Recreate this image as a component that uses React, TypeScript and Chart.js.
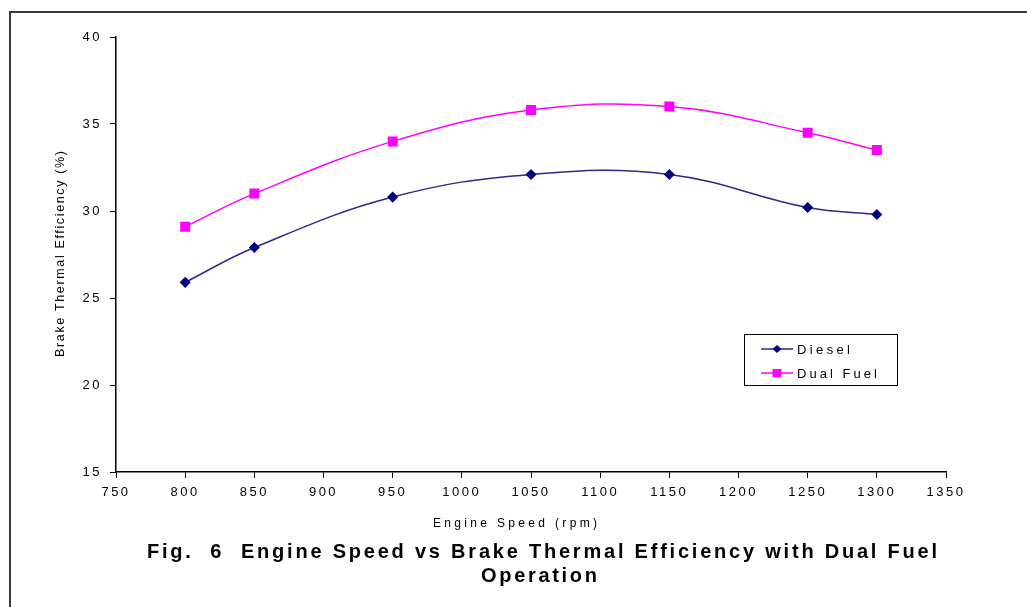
import React, { useEffect, useRef } from "react";
import { Chart, registerables } from "chart.js";

Chart.register(...registerables);

const W = 1027;
const H = 607;

// ---- data ----
const engineSpeed = [800, 850, 950, 1050, 1150, 1250, 1300];
const dieselBTE = [25.9, 27.9, 30.8, 32.1, 32.1, 30.2, 29.8];
const dualFuelBTE = [29.1, 31.0, 34.0, 35.8, 36.0, 34.5, 33.5];
const seriesNames = ["Diesel", "Dual Fuel"];
const xRange = [750, 1350];
const xStep = 50;
const yRange = [15, 40];
const yStep = 5;
const xTitle = "Engine Speed (rpm)";
const yTitle = "Brake Thermal Efficiency (%)";
const captionLines = [
  "Fig.  6  Engine Speed vs Brake Thermal Efficiency with Dual Fuel",
  "Operation",
];

const DIESEL_LINE = "#2a2a8a";
const DIESEL_PT = "#000080";
const DUAL = "#ff00ff";

function spacedText(
  ctx: CanvasRenderingContext2D,
  text: string,
  x: number,
  y: number,
  width: number,
  align: "left" | "center"
) {
  ctx.letterSpacing = "0px";
  const w = ctx.measureText(text).width;
  const n = Math.max(1, text.length - 1);
  const sp = (width - w) / n;
  ctx.letterSpacing = sp + "px";
  ctx.textAlign = "left";
  const startX = align === "center" ? x - width / 2 : x;
  ctx.fillText(text, startX, y);
  ctx.letterSpacing = "0px";
}

function drawMarker(ctx: CanvasRenderingContext2D, style: string, x: number, y: number, color: string) {
  ctx.fillStyle = color;
  ctx.beginPath();
  if (style === "rectRot") {
    ctx.moveTo(x, y - 4);
    ctx.lineTo(x + 4.5, y);
    ctx.lineTo(x, y + 4);
    ctx.lineTo(x - 4.5, y);
    ctx.closePath();
  } else {
    ctx.rect(x - 4.5, y - 4, 9, 8);
  }
  ctx.fill();
}

const decorPlugin = {
  id: "decor",
  beforeDraw(chart: any) {
    const ctx: CanvasRenderingContext2D = chart.ctx;
    ctx.save();
    ctx.fillStyle = "#ffffff";
    ctx.fillRect(0, 0, W, H);
    ctx.fillStyle = "#3a3a3a";
    ctx.fillRect(9, 11, 2, H - 11);
    ctx.fillRect(9, 11, W - 9, 2);
    ctx.restore();
    ctx.letterSpacing = "2.5px";
  },
  afterDraw(chart: any) {
    const ctx: CanvasRenderingContext2D = chart.ctx;
    ctx.save();
    ctx.letterSpacing = "0px";
    ctx.fillStyle = "#000";
    ctx.textBaseline = "alphabetic";

    // x axis title
    ctx.font = '12px "Liberation Sans", Arial, sans-serif';
    spacedText(ctx, xTitle, 515, 527, 164, "center");

    // y axis title
    ctx.save();
    ctx.translate(64, 254);
    ctx.rotate(-Math.PI / 2);
    ctx.font = '12.5px "Liberation Sans", Arial, sans-serif';
    spacedText(ctx, yTitle, 0, 0, 206, "center");
    ctx.restore();

    // caption
    ctx.font = 'bold 20px "Liberation Sans", Arial, sans-serif';
    spacedText(ctx, captionLines[0], 542, 558, 790, "center");
    spacedText(ctx, captionLines[1], 539, 582, 116, "center");

    // legend
    ctx.lineWidth = 1;
    ctx.strokeStyle = "#000";
    ctx.strokeRect(744.5, 334.5, 153, 51);
    const ds = chart.data.datasets;
    const rowsY = [349, 373];
    const widths = [53, 80];
    ds.forEach((d: any, i: number) => {
      const y = rowsY[i];
      ctx.strokeStyle = d.borderColor;
      ctx.lineWidth = 1.5;
      ctx.beginPath();
      ctx.moveTo(761, y);
      ctx.lineTo(793, y);
      ctx.stroke();
      drawMarker(ctx, d.pointStyle, 777, y, d.pointBackgroundColor);
      ctx.fillStyle = "#000";
      ctx.font = '13px "Liberation Sans", Arial, sans-serif';
      ctx.textBaseline = "middle";
      spacedText(ctx, d.label, 797, y + 1, widths[i], "left");
    });
    ctx.restore();
  },
};

export default function App() {
  const ref = useRef<HTMLCanvasElement | null>(null);

  useEffect(() => {
    if (!ref.current) return;
    const tickFont = { family: '"Liberation Sans", Arial, sans-serif', size: 13 };
    const chart = new Chart(ref.current, {
      type: "line",
      data: {
        datasets: [
          {
            label: seriesNames[0],
            data: engineSpeed.map((x, i) => ({ x, y: dieselBTE[i] })),
            borderColor: DIESEL_LINE,
            backgroundColor: DIESEL_PT,
            pointBackgroundColor: DIESEL_PT,
            pointBorderColor: DIESEL_PT,
            pointStyle: "rectRot",
            pointRadius: 4.5,
            borderWidth: 1.5,
            tension: 0.4,
            fill: false,
          },
          {
            label: seriesNames[1],
            data: engineSpeed.map((x, i) => ({ x, y: dualFuelBTE[i] })),
            borderColor: DUAL,
            backgroundColor: DUAL,
            pointBackgroundColor: DUAL,
            pointBorderColor: DUAL,
            pointStyle: "rect",
            pointRadius: 6,
            borderWidth: 1.5,
            tension: 0.4,
            fill: false,
          },
        ],
      },
      options: {
        responsive: false,
        animation: false,
        devicePixelRatio: 1,
        layout: { padding: { left: 30, top: 37, right: 81, bottom: 0 } },
        plugins: {
          legend: { display: false },
          title: { display: false },
          tooltip: { enabled: false },
        },
        scales: {
          x: {
            type: "linear",
            min: xRange[0],
            max: xRange[1],
            ticks: {
              stepSize: xStep,
              autoSkip: false,
              maxRotation: 0,
              color: "#000",
              font: tickFont,
              padding: 7,
              callback: (v: any) => String(v),
            },
            grid: { drawOnChartArea: false, tickLength: 6, color: "#000", lineWidth: 1 },
            border: { color: "#000", width: 1.5 },
            afterFit: (s: any) => {
              s.height = 135;
            },
          },
          y: {
            type: "linear",
            min: yRange[0],
            max: yRange[1],
            ticks: {
              stepSize: yStep,
              color: "#000",
              font: tickFont,
              padding: 8,
              callback: (v: any) => String(v),
            },
            grid: { drawOnChartArea: false, tickLength: 6, color: "#000", lineWidth: 1 },
            border: { color: "#000", width: 1.5 },
            afterFit: (s: any) => {
              s.width = 86;
            },
          },
        },
      },
      plugins: [decorPlugin],
    });
    return () => chart.destroy();
  }, []);

  return (
    <canvas
      ref={ref}
      width={W}
      height={H}
      style={{ position: "absolute", left: 0, top: 0, width: W, height: H }}
    />
  );
}
